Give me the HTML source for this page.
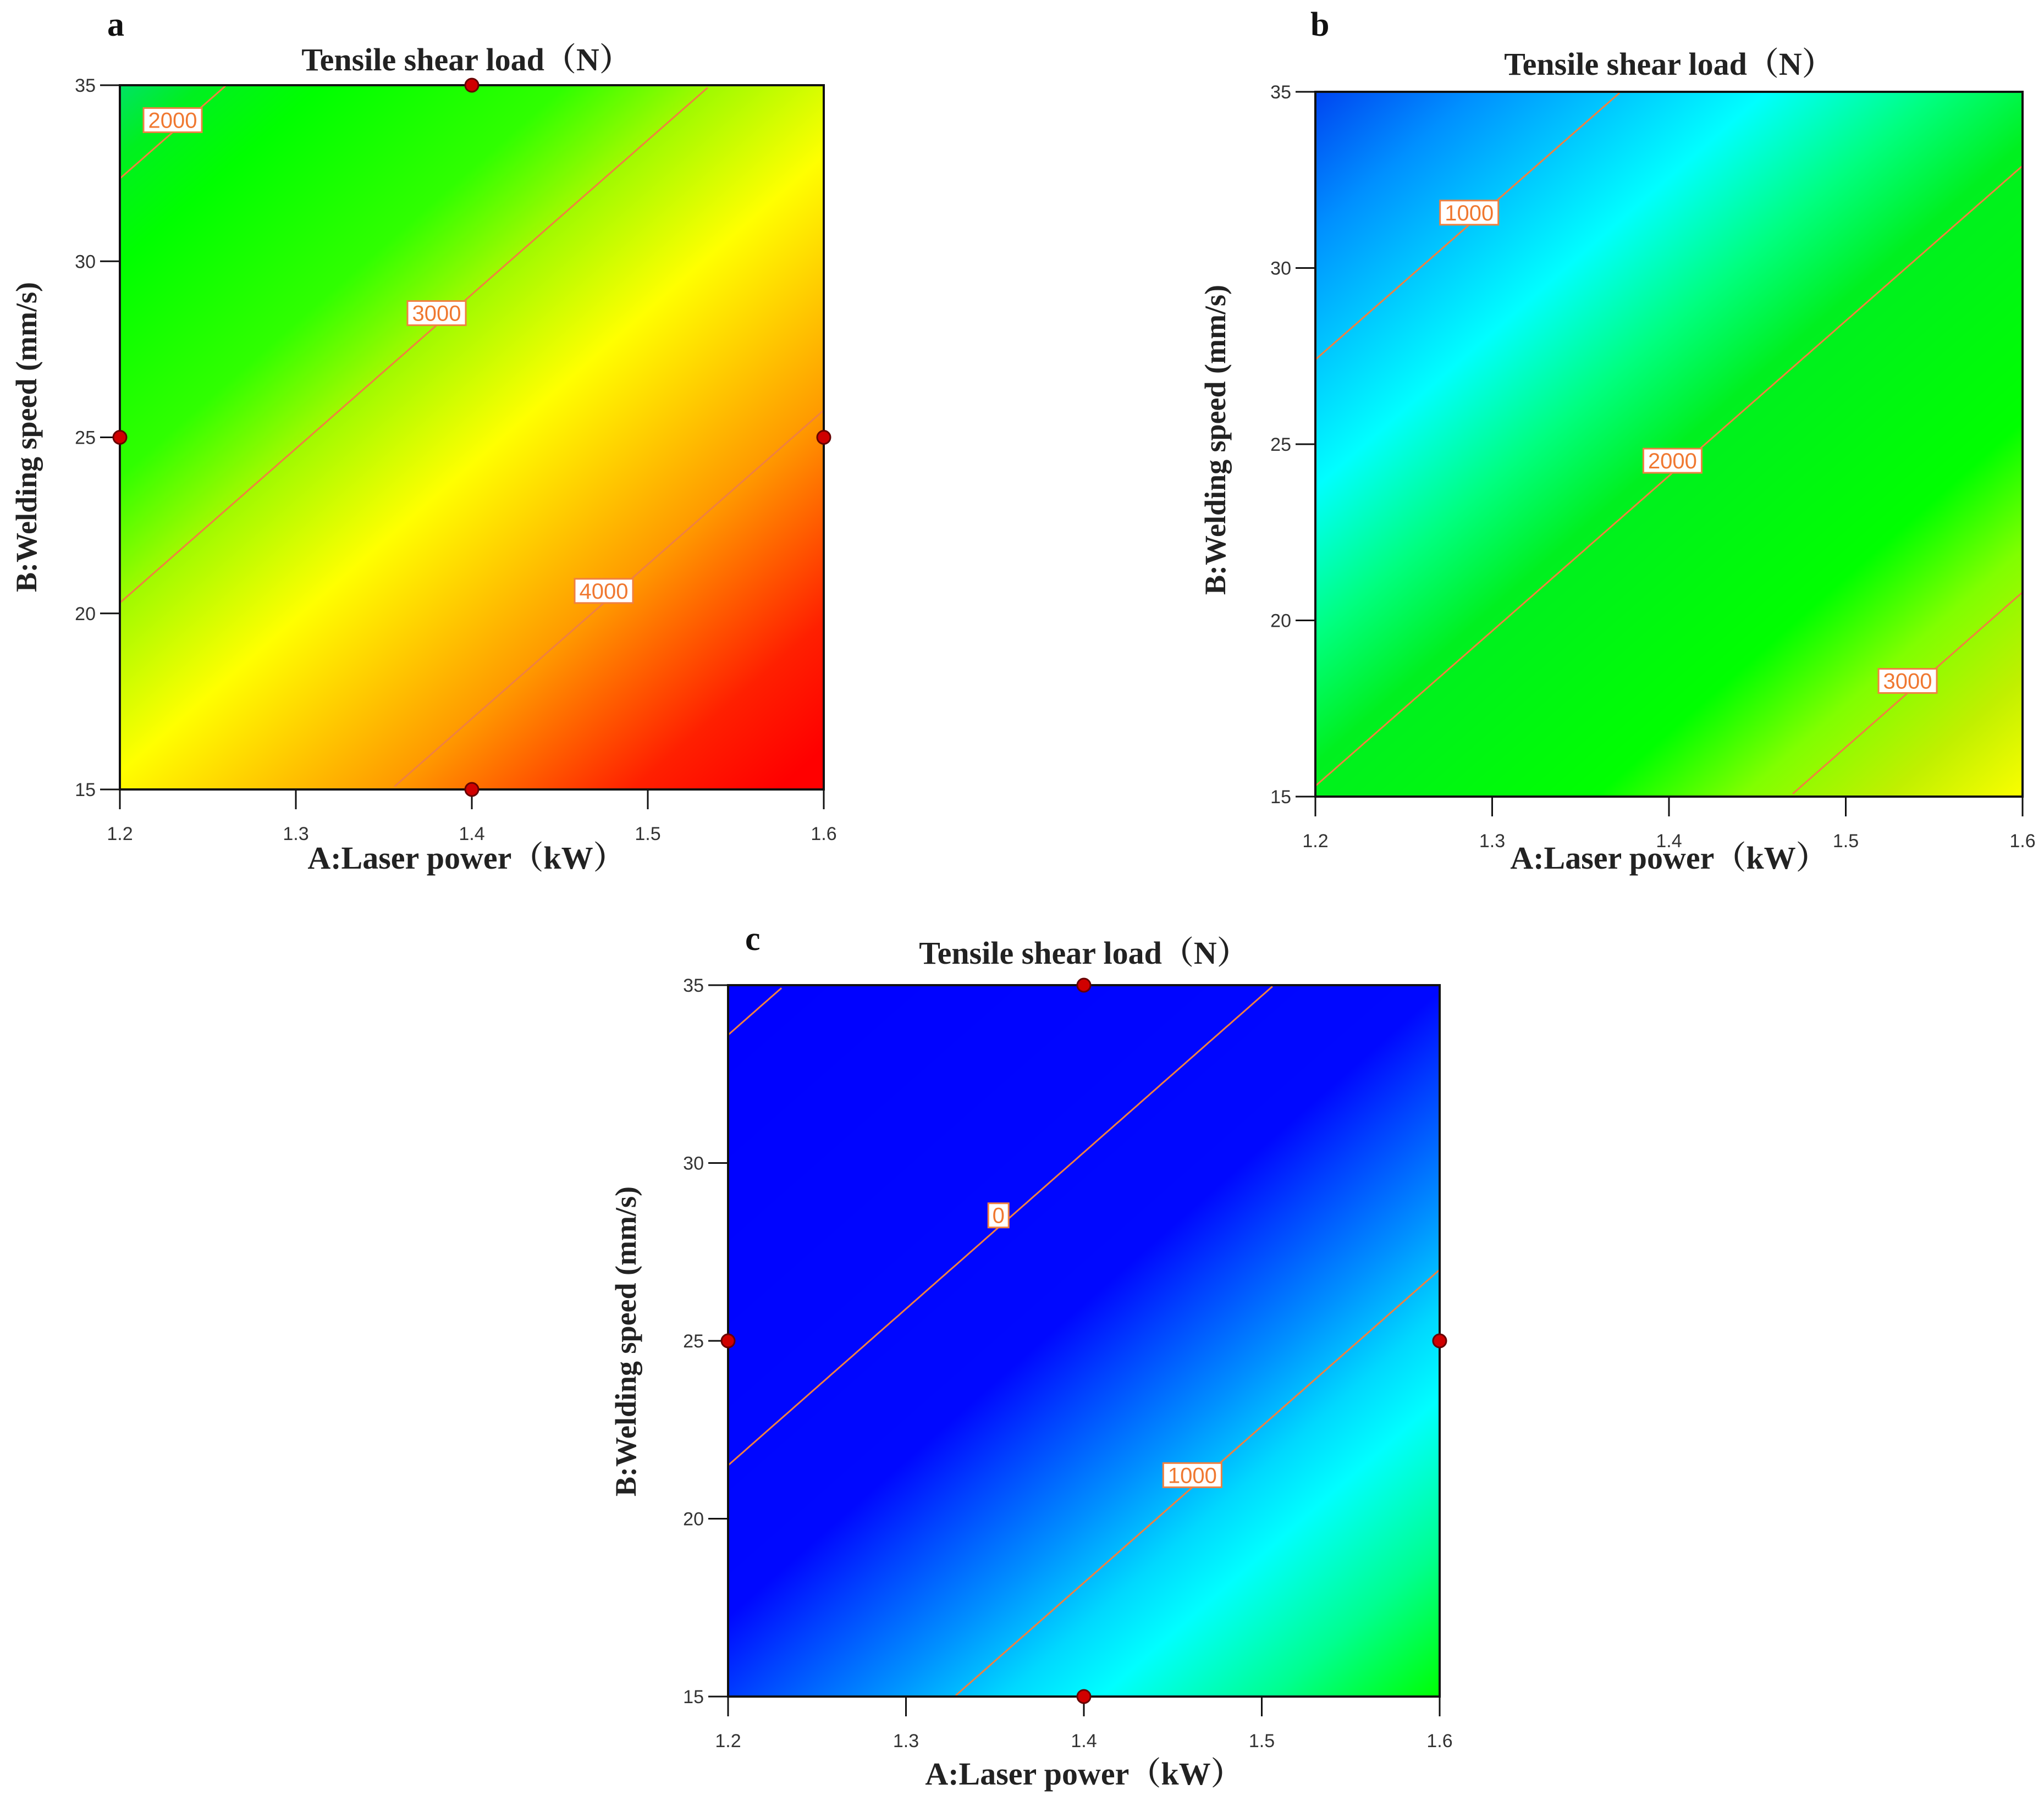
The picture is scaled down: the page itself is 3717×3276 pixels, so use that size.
<!DOCTYPE html>
<html><head><meta charset="utf-8">
<style>
html,body{margin:0;padding:0;background:#fff;}
#root{position:relative;width:3717px;height:3276px;overflow:hidden;background:#fff;}
svg{position:absolute;left:0;top:0;}
canvas{position:absolute;}
</style></head>
<body>
<div id="root">
<canvas id="cva" width="1280" height="1281" style="left:218px;top:155px"></canvas>
<canvas id="cvb" width="1286" height="1282" style="left:2392px;top:167px"></canvas>
<canvas id="cvc" width="1294" height="1294" style="left:1324px;top:1792px"></canvas>
<svg id="ov" width="3717" height="3276"></svg>
</div>
<script>
// ---- data ----
const xTicks = [1.2, 1.3, 1.4, 1.5, 1.6];
const yTicks = [15, 20, 25, 30, 35];
const xTickLabels = ["1.2", "1.3", "1.4", "1.5", "1.6"];
const yTickLabels = ["15", "20", "25", "30", "35"];
// linear response: value = base + perUnit*(slope*A - B - uRef)
const slopeA = [43.8, 44, 44];
const uRef = [32.26, 37.5, 31.3];
const baseVal = [3000, 2000, 0];
const perUnit = [1000/12.05, 1000/12.1, 1000/12.1];
const levelsA = [2000, 3000, 4000];
const levelsB = [1000, 2000, 3000];
const levelsC = [-1000, 0, 1000];
const labelLevelsA = [2000, 3000, 4000];
const labelAtA = [1.23, 1.38, 1.475];
const labelLevelsB = [1000, 2000, 3000];
const labelAtB = [1.287, 1.402, 1.535];
const labelLevelsC = [0, 1000];
const labelAtC = [1.352, 1.461];
const designA = [1.4, 1.2, 1.6, 1.4];
const designB = [35, 25, 25, 15];

const panels = [
 {id:'a', canvas:'cva', L:218, T:155, R:1498, B:1436, levels:levelsA, labLv:labelLevelsA, labA:labelAtA, pts:true,
  stops:[[1750,'#00e070'],[1950,'#00f020'],[2200,'#00ff00'],[2700,'#30ff00'],[3000,'#a0fa00'],[3400,'#ffff00'],[4000,'#ff9a00'],[4500,'#ff2000'],[4800,'#ff0000']],
  title:[848,108], xt:[848,1560], yt:[48,795], letter:[195,65]},
 {id:'b', canvas:'cvb', L:2392, T:167, R:3678, B:1449, levels:levelsB, labLv:labelLevelsB, labA:labelAtB, pts:false,
  stops:[[350,'#0040f0'],[700,'#0090ff'],[1000,'#00c8ff'],[1300,'#00ffff'],[1650,'#00ff80'],[1950,'#00f020'],[2600,'#00ff00'],[2900,'#80ff00'],[3200,'#c0f000'],[3500,'#ffff00']],
  title:[3035,116], xt:[3035,1560], yt:[2210,800], letter:[2383,65]},
 {id:'c', canvas:'cvc', L:1324, T:1792, R:2618, B:3086, levels:levelsC, labLv:labelLevelsC, labA:labelAtC, pts:true,
  stops:[[-1200,'#0000ff'],[350,'#0008ff'],[550,'#0040ff'],[850,'#0090ff'],[1100,'#00d8ff'],[1300,'#00ffff'],[1650,'#00ff90'],[2000,'#00ff00']],
  title:[1971,1733], xt:[1971,3226], yt:[1138,2440], letter:[1355,1728]}
];
function hex(c){return [parseInt(c.substr(1,2),16),parseInt(c.substr(3,2),16),parseInt(c.substr(5,2),16)];}
function cmap(stops,v){
  if(v<=stops[0][0]) return hex(stops[0][1]);
  for(let i=1;i<stops.length;i++){ if(v<=stops[i][0]){const t=(v-stops[i-1][0])/(stops[i][0]-stops[i-1][0]);const a=hex(stops[i-1][1]),b=hex(stops[i][1]);return [a[0]+(b[0]-a[0])*t,a[1]+(b[1]-a[1])*t,a[2]+(b[2]-a[2])*t];}}
  return hex(stops[stops.length-1][1]);
}
const NS='http://www.w3.org/2000/svg';
const ov=document.getElementById('ov');
function mk(tag,attrs,parent){const e=document.createElementNS(NS,tag);for(const k in attrs)e.setAttribute(k,attrs[k]);(parent||ov).appendChild(e);return e;}

panels.forEach((p,pi)=>{
  const sx=a=>p.L+(a-1.2)/0.4*(p.R-p.L);
  const sy=b=>p.B-(b-15)/20*(p.B-p.T);
  const val=(a,b)=>baseVal[pi]+perUnit[pi]*(slopeA[pi]*a-b-uRef[pi]);
  const bAt=(lv,a)=>slopeA[pi]*a-uRef[pi]-(lv-baseVal[pi])/perUnit[pi];
  const cv=document.getElementById(p.canvas);const ctx=cv.getContext('2d');
  const W=cv.width,H=cv.height;const img=ctx.createImageData(W,H);
  for(let j=0;j<H;j++){const b=35-j/(H-1)*20;for(let i=0;i<W;i++){const a=1.2+i/(W-1)*0.4;const c=cmap(p.stops,val(a,b));const k=(j*W+i)*4;img.data[k]=c[0];img.data[k+1]=c[1];img.data[k+2]=c[2];img.data[k+3]=255;}}
  ctx.putImageData(img,0,0);
  const g=mk('g',{});
  
  
  p.levels.forEach(lv=>{
    let pts=[];
    for(let s=0;s<=200;s++){const a=1.2+s*0.002;const b=bAt(lv,a);if(b>=15&&b<=35)pts.push(sx(a).toFixed(1)+','+sy(b).toFixed(1));}
    if(pts.length>1){const l=mk('polyline',{points:pts.join(' '),fill:'none',stroke:'#f08040','stroke-width':3},g);
      
      }
  });
  p.labLv.forEach((lv,i)=>{
    const a=p.labA[i],b=bAt(lv,a);const x=sx(a),y=sy(b)-22;const txt=String(lv);const w=txt.length*23+14;
    const lg=mk('g',{},g);
    
    
    mk('rect',{x:x-w/2,y:y-22,width:w,height:44,fill:'#fff',stroke:'#f08040','stroke-width':3},lg);
    const t=mk('text',{x:x,y:y+14,'text-anchor':'middle','font-family':'Liberation Sans, sans-serif','font-size':40,fill:'#f07830'},lg);t.textContent=txt;
  });
  const fr=mk('rect',{x:p.L,y:p.T,width:p.R-p.L,height:p.B-p.T,fill:'none',stroke:'#111','stroke-width':4},g);
  
  
  xTicks.forEach((v,i)=>{const x=sx(v);mk('line',{x1:x,y1:p.B,x2:x,y2:p.B+36,stroke:'#111','stroke-width':3},g);
    const t=mk('text',{x:x,y:p.B+92,'text-anchor':'middle','font-family':'Liberation Sans, sans-serif','font-size':34,fill:'#333'},g);t.textContent=xTickLabels[i];
    
    });
  yTicks.forEach((v,i)=>{const y=sy(v);mk('line',{x1:p.L-36,y1:y,x2:p.L,y2:y,stroke:'#111','stroke-width':3},g);
    const t=mk('text',{x:p.L-44,y:y+12,'text-anchor':'end','font-family':'Liberation Sans, sans-serif','font-size':34,fill:'#333'},g);t.textContent=yTickLabels[i];
    
    });
  if(p.pts){designA.forEach((a,i)=>{const c=mk('circle',{cx:sx(a),cy:sy(designB[i]),r:12,fill:'#d00000',stroke:'#600','stroke-width':3},g);
    
    });}
  const ser='Liberation Serif, Noto Serif CJK SC, serif';
  const ti=mk('text',{x:p.title[0],y:p.title[1]+20,'text-anchor':'middle','font-family':ser,'font-weight':'bold','font-size':58,fill:'#222'},g);ti.textContent='Tensile shear load（N）';
  
  
  const xt=mk('text',{x:p.xt[0],y:p.xt[1]+20,'text-anchor':'middle','font-family':ser,'font-weight':'bold','font-size':58,fill:'#222'},g);xt.textContent='A:Laser power（kW）';
  
  
  const yt=mk('text',{x:0,y:0,'text-anchor':'middle','font-family':ser,'font-weight':'bold','font-size':54,fill:'#222',transform:'translate('+(p.yt[0]+18)+','+p.yt[1]+') rotate(-90)'},g);yt.textContent='B:Welding speed (mm/s)';
  
  
  const le=mk('text',{x:p.letter[0],y:p.letter[1],'font-family':ser,'font-weight':'bold','font-size':62,fill:'#111'},g);le.textContent=p.id;
  
  
});
</script>
</body></html>
